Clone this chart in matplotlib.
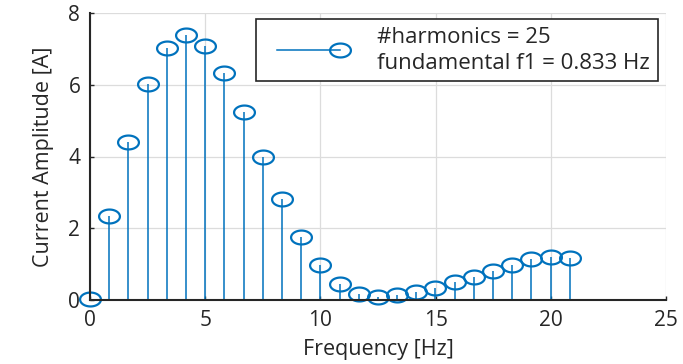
import matplotlib
matplotlib.use("Agg")
import matplotlib.pyplot as plt
import numpy as np
from matplotlib.path import Path
from matplotlib.lines import Line2D
from matplotlib.legend_handler import HandlerLine2DCompound

# harmonic spectrum of the current
f1 = 0.833
n_harm = 25
amps = [0.03, 2.34, 4.40, 6.02, 7.02, 7.40, 7.09, 6.34, 5.23, 3.98, 2.81, 1.76,
        0.98, 0.45, 0.16, 0.09, 0.14, 0.22, 0.34, 0.50, 0.65, 0.82, 0.98, 1.13,
        1.19, 1.18]
freqs = [k * f1 for k in range(len(amps))]

blue = '#0072BD'
dark = '#262626'

plt.rcParams['font.family'] = ['Open Sans', 'DejaVu Sans']

# wide open ellipse for the stem heads
t = np.linspace(0, 2 * np.pi, 60)
ell = Path(np.column_stack([0.75 * np.cos(t), 0.5 * np.sin(t)]), closed=True)


class StemHandler(HandlerLine2DCompound):
    # marker sits at the right end of the legend line, like a stem tip
    def get_xdata(self, legend, xdescent, ydescent, width, height, fontsize):
        x0 = -xdescent + 0.17 * width
        x1 = -xdescent + width
        return np.array([x0, x1]), np.array([x1])


fig = plt.figure(figsize=(6.83, 3.64), dpi=100)
ax = fig.add_axes([90 / 683, 64 / 364, 576 / 683, 287 / 364])

ml, sl, bl = ax.stem(freqs, amps, basefmt=' ')
plt.setp(sl, color=blue, linewidth=1.1)
plt.setp(ml, marker=ell, markersize=15, markerfacecolor='none',
         markeredgecolor=blue, markeredgewidth=1.6, color=blue, clip_on=False)
plt.setp(sl, clip_on=False)

ax.set_xlim(0, 25)
ax.set_ylim(0, 8)
ax.set_xticks([0, 5, 10, 15, 20, 25])
ax.set_yticks([0, 2, 4, 6, 8])
ax.grid(True, color='#dcdcdc', linewidth=0.9)
ax.set_axisbelow(True)
for s in ['top', 'right']:
    ax.spines[s].set_visible(False)
for s in ['left', 'bottom']:
    ax.spines[s].set_color(dark)
    ax.spines[s].set_linewidth(1.5)
ax.tick_params(direction='in', length=3, width=1, colors=dark, labelsize=15, pad=7)
ax.set_xlabel('Frequency [Hz]', fontsize=15.5, color=dark, labelpad=6)
ax.set_ylabel('Current Amplitude [A]', fontsize=15.5, color=dark, labelpad=10)

label = '#harmonics = %d\nfundamental f1 = %.3f Hz' % (n_harm, f1)
h = Line2D([0], [0], color=blue, linewidth=1.1, marker=ell, markersize=15,
           markerfacecolor='none', markeredgecolor=blue, markeredgewidth=1.6)
leg = ax.legend([h], [label], loc='upper right', fontsize=16,
                handler_map={Line2D: StemHandler()},
                frameon=True, fancybox=False, edgecolor=dark, framealpha=1,
                handlelength=3.4, handletextpad=1.7, borderpad=0.35,
                borderaxespad=0, labelspacing=0.2,
                bbox_to_anchor=(0.986, 0.979))
leg.get_frame().set_linewidth(1.2)
for txt in leg.get_texts():
    txt.set_color(dark)
    txt.set_linespacing(1.3)

fig.savefig('out.png', dpi=100)
